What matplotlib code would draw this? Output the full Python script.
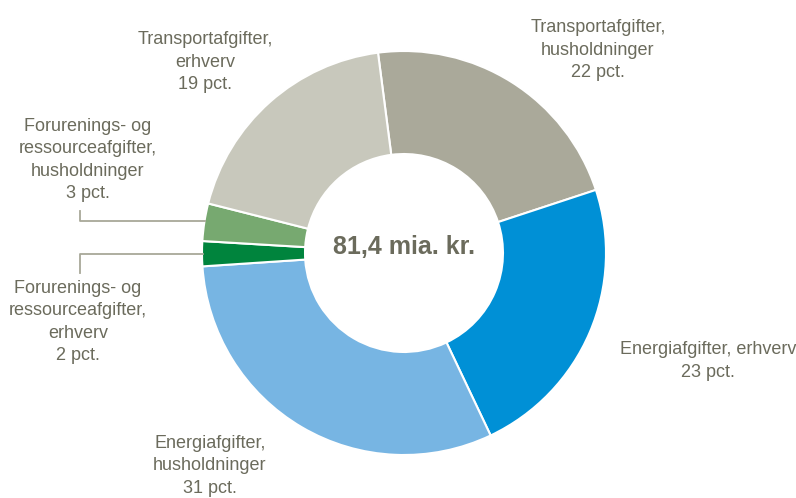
import matplotlib.pyplot as plt

labels = ["Transportafgifter,\nhusholdninger\n22 pct.",
          "Energiafgifter, erhverv\n23 pct.",
          "Energiafgifter,\nhusholdninger\n31 pct.",
          "Forurenings- og\nressourceafgifter,\nerhverv\n2 pct.",
          "Forurenings- og\nressourceafgifter,\nhusholdninger\n3 pct.",
          "Transportafgifter,\nerhverv\n19 pct."]
shares = [22, 23, 31, 2, 3, 19]
colors = ["#aaa99a", "#0090d6", "#77b5e3", "#00843d", "#77a970", "#c8c8bc"]
total_label = "81,4 mia. kr."

plt.rcParams['font.family'] = ["Liberation Sans", "DejaVu Sans"]
txt = "#6b6b5c"

W, H = 796, 498
cx, cy, R = 404, 253, 202

fig = plt.figure(figsize=(W / 100, H / 100), dpi=100)
ax = fig.add_axes([0, 0, 1, 1])

ax.pie(shares, colors=colors, startangle=97.4, counterclock=False, radius=1,
       wedgeprops=dict(width=0.51, edgecolor='white', linewidth=1.5))

ax.set_aspect('equal')
ax.axis('off')
ax.set_xlim(-cx / R, (W - cx) / R)
ax.set_ylim(-(H - cy) / R, cy / R)


def px(x, y):
    return (x - cx) / R, (cy - y) / R


# label positions in pixels
pos = [(598, 50), (708, 361), (210, 466), (78, 322), (88, 160), (205, 62)]
for lab, (x, y) in zip(labels, pos):
    ax.text(*px(x, y), lab, ha='center', va='center', fontsize=13, color=txt, linespacing=1.4)

# leader lines for small slices
lc = "#a8a898"
l1 = [px(80, 211), px(80, 221), px(205, 221)]
ax.plot([p[0] for p in l1], [p[1] for p in l1], color=lc, lw=1.3)
l2 = [px(80, 273), px(80, 254), px(203, 254)]
ax.plot([p[0] for p in l2], [p[1] for p in l2], color=lc, lw=1.3)

ax.text(*px(404, 247), total_label, ha='center', va='center', fontsize=18,
        fontweight='bold', color=txt)

fig.savefig("out.png", dpi=100)
